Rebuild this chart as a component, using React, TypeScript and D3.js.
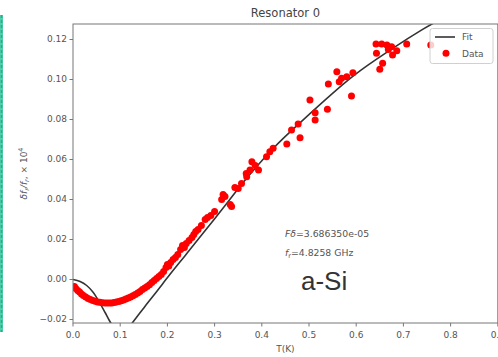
import * as d3 from "d3";

// measured points (T in K, shift x 1e4)
const dataT = [
  0.003, 0.006, 0.01, 0.014, 0.018, 0.022, 0.027, 0.032, 0.037, 0.042, 0.047, 0.052,
  0.057, 0.062, 0.067, 0.072, 0.077, 0.082, 0.087, 0.092, 0.097, 0.102, 0.107, 0.112,
  0.117, 0.122, 0.127, 0.132, 0.137, 0.142, 0.147, 0.152, 0.157, 0.162, 0.167, 0.172,
  0.177, 0.182, 0.187, 0.192, 0.197, 0.2, 0.203, 0.207, 0.212, 0.217, 0.222, 0.228,
  0.232, 0.236, 0.24, 0.246, 0.252, 0.256, 0.26, 0.265, 0.272, 0.28, 0.285, 0.292,
  0.3, 0.315, 0.318, 0.322, 0.333, 0.336, 0.343, 0.35, 0.357, 0.367,
  0.368, 0.375, 0.379, 0.386, 0.393, 0.41, 0.417, 0.424, 0.453, 0.463, 0.477, 0.481,
  0.502, 0.513, 0.513, 0.539, 0.541, 0.559, 0.564, 0.569, 0.58, 0.59, 0.593,
  0.642, 0.654, 0.665, 0.675, 0.643, 0.656, 0.65, 0.677, 0.686, 0.668, 0.707, 0.758,
];
const dataShift = [
  -0.0035, -0.0045, -0.0055, -0.0063, -0.0072, -0.008, -0.0088, -0.0095, -0.01, -0.0105, -0.0109, -0.0112,
  -0.0114, -0.0116, -0.0117, -0.0118, -0.0118, -0.0117, -0.0115, -0.0113, -0.011, -0.0106, -0.0102, -0.0097,
  -0.0092, -0.0087, -0.0081, -0.0075, -0.0068, -0.006, -0.005, -0.0042, -0.0035, -0.0026, -0.0015, -0.0005,
  0.0005, 0.0015, 0.0025, 0.004, 0.006, 0.0075, 0.0068, 0.0085, 0.01, 0.011, 0.0125, 0.015,
  0.017, 0.016, 0.018, 0.0195, 0.021, 0.0225, 0.024, 0.025, 0.027, 0.03, 0.031, 0.032,
  0.034, 0.04, 0.0425, 0.0415, 0.0375, 0.0365, 0.046, 0.0455, 0.048, 0.053,
  0.0514, 0.0548, 0.0589, 0.057, 0.0548, 0.0614, 0.0639, 0.0656, 0.0678, 0.0748, 0.0778, 0.0709,
  0.0898, 0.0834, 0.0798, 0.0851, 0.0978, 0.1039, 0.0989, 0.1006, 0.1014, 0.0918, 0.1034,
  0.1178, 0.1178, 0.1173, 0.1164, 0.1131, 0.1081, 0.1051, 0.1123, 0.1144, 0.115, 0.1178, 0.1173,
];

// fit curve
const fitT = [0, 0.015, 0.029, 0.043, 0.057, 0.068, 0.077, 0.088, 0.1, 0.112, 0.124, 0.15, 0.177, 0.206, 0.237, 0.272, 0.321, 0.364, 0.424, 0.477, 0.594, 0.679, 0.739, 0.77];
const fitShift = [0, -0.001, -0.003, -0.0065, -0.0118, -0.0165, -0.0205, -0.0245, -0.0265, -0.0258, -0.0222, -0.0142, -0.0061, 0.0027, 0.0118, 0.0221, 0.0366, 0.0495, 0.0655, 0.0775, 0.1018, 0.1158, 0.1248, 0.129];

const xTicks = [0, 0.1, 0.2, 0.3, 0.4, 0.5, 0.6, 0.7, 0.8, 0.9];
const yTicks = [-0.02, 0, 0.02, 0.04, 0.06, 0.08, 0.1, 0.12];

const W = 498;
const H = 357;
const left = 73;
const right = 497.8;
const top = 24;
const bottom = 323;
const font = "'DejaVu Sans', sans-serif";
const tickColor = "#555";

export default function App() {
  const x = d3.scaleLinear().domain([0, 0.9]).range([left, right]);
  const y = d3.scaleLinear().domain([0, 0.12]).range([279.5, 39.5]);

  const fitPath = d3
    .line<number>()
    .x((t) => x(t))
    .y((_, i) => y(fitShift[i]))
    .curve(d3.curveCatmullRom.alpha(0.5))(fitT);

  const yFmt = (v: number) => d3.format(".2f")(v).replace("-", "\u2212");

  return (
    <div style={{ position: "fixed", left: 0, top: 0, background: "#fff" }}>
      <svg width={W} height={H} style={{ display: "block" }} fontFamily={font}>
        <rect width={W} height={H} fill="#fff" />
        {/* teal strip at left edge */}
        <rect x={0} y={15} width={3} height={317} fill="#4fd0ab" />
        <line x1={1.5} x2={1.5} y1={15} y2={332} stroke="#1f9c78" strokeWidth={1.5} strokeDasharray="3 2" opacity={0.7} />

        <defs>
          <clipPath id="plot">
            <rect x={left} y={top} width={right - left} height={bottom - top} />
          </clipPath>
        </defs>

        <text x={(left + right) / 2} y={17} textAnchor="middle" fontSize={11.5} fill="#444">
          Resonator 0
        </text>

        <g clipPath="url(#plot)">
          <path d={fitPath ?? ""} fill="none" stroke="#333" strokeWidth={1.6} />
          {dataT.map((t, i) => (
            <circle key={i} cx={x(t)} cy={y(dataShift[i])} r={3.5} fill="#f00" />
          ))}
        </g>

        {/* spines */}
        <rect x={left} y={top} width={right - left} height={bottom - top} fill="none" stroke="#777" strokeWidth={1} />

        {/* x axis */}
        {xTicks.map((t) => (
          <g key={t} transform={`translate(${x(t)},${bottom})`}>
            <line y2={3.5} stroke="#777" />
            <text y={15} textAnchor="middle" fontSize={9} fill={tickColor}>
              {d3.format(".1f")(t)}
            </text>
          </g>
        ))}
        <text x={(left + right) / 2} y={352} textAnchor="middle" fontSize={9} fill={tickColor}>
          T(K)
        </text>

        {/* y axis */}
        {yTicks.map((v) => (
          <g key={v} transform={`translate(${left},${y(v)})`}>
            <line x2={-3.5} stroke="#777" />
            <text x={-6} dy="0.33em" textAnchor="end" fontSize={9} fill={tickColor}>
              {yFmt(v)}
            </text>
          </g>
        ))}
        <text transform={`translate(27,${(top + bottom) / 2}) rotate(-90)`} textAnchor="middle" fontSize={9} fill={tickColor}>
          <tspan fontStyle="italic">δf</tspan>
          <tspan fontSize={6.5} dy={2} fontStyle="italic">r</tspan>
          <tspan dy={-2} fontStyle="italic">/f</tspan>
          <tspan fontSize={6.5} dy={2} fontStyle="italic">r</tspan>
          <tspan dy={-2}>, × 10</tspan>
          <tspan fontSize={6.5} dy={-4}>4</tspan>
        </text>

        {/* annotations */}
        <text x={285} y={236.5} fontSize={9.3} fill="#555">
          <tspan fontStyle="italic">Fδ</tspan>=3.686350e-05
        </text>
        <text x={285} y={255.5} fontSize={9.3} fill="#555">
          <tspan fontStyle="italic">f</tspan>
          <tspan fontSize={6.5} dy={2}>r</tspan>
          <tspan dy={-2}>=4.8258 GHz</tspan>
        </text>
        <text x={301} y={290} fontSize={26} fill="#333" fontFamily="'Liberation Sans', Arial, sans-serif">
          a-Si
        </text>

        {/* legend */}
        <rect x={430} y={28.5} width={63} height={35} rx={2.5} fill="#fff" fillOpacity={0.8} stroke="#d0d0d0" />
        <line x1={435} x2={455} y1={37} y2={37} stroke="#333" strokeWidth={1.6} />
        <text x={462} y={40.3} fontSize={9} fill={tickColor}>Fit</text>
        <circle cx={446} cy={53.3} r={3.5} fill="#f00" />
        <text x={462} y={56.6} fontSize={9} fill={tickColor}>Data</text>
      </svg>
    </div>
  );
}
